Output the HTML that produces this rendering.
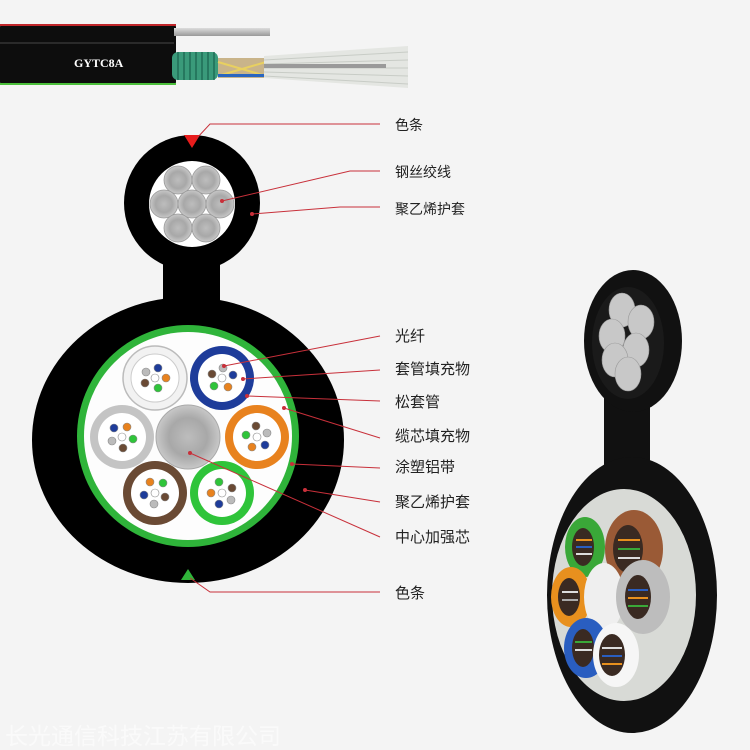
<!DOCTYPE html>
<html><head><meta charset="utf-8"><style>
html,body{margin:0;padding:0;background:#f4f4f4;}
svg{display:block}
text{font-family:"Liberation Sans","Noto Sans CJK SC",sans-serif;}
</style></head><body>
<svg width="750" height="750" viewBox="0 0 750 750" xmlns="http://www.w3.org/2000/svg">
<defs>
<radialGradient id="steel" cx="50%" cy="50%" r="50%">
<stop offset="0" stop-color="#bdbdbd"/><stop offset="0.6" stop-color="#a8a8a8"/><stop offset="1" stop-color="#c8c8c8"/>
</radialGradient>
<linearGradient id="wire" x1="0" x2="0" y1="0" y2="1"><stop offset="0" stop-color="#ddd"/><stop offset="1" stop-color="#999"/></linearGradient>
</defs>
<rect width="750" height="750" fill="#f4f4f4"/>

<!-- top cable side view -->
<rect x="0" y="24" width="176" height="61" rx="3" fill="#0d0d0d"/>
<rect x="0" y="24" width="176" height="2" fill="#c0262a"/>
<rect x="0" y="83" width="176" height="2" fill="#4bbf3a"/>
<line x1="0" y1="43" x2="174" y2="43" stroke="#2a2a2a" stroke-width="2"/>
<rect x="174" y="28" width="96" height="8" fill="url(#wire)"/>
<rect x="172" y="52" width="46" height="28" rx="6" fill="#3a9a7a"/>
<g stroke="#1f6d56" stroke-width="1.5">
<line x1="178" y1="52" x2="178" y2="80"/><line x1="184" y1="52" x2="184" y2="80"/><line x1="190" y1="52" x2="190" y2="80"/><line x1="196" y1="52" x2="196" y2="80"/><line x1="202" y1="52" x2="202" y2="80"/><line x1="208" y1="52" x2="208" y2="80"/><line x1="214" y1="52" x2="214" y2="80"/></g>
<rect x="218" y="58" width="48" height="20" fill="#c9b48a"/>
<path d="M218 62 L266 76 M218 76 L266 62" stroke="#e8d060" stroke-width="2"/>
<rect x="218" y="74" width="48" height="3" fill="#2a66c0"/>
<path d="M264 56 L408 46 L408 88 L264 78 Z" fill="#e4e6e2"/>
<g stroke="#c8ccc6" stroke-width="1"><line x1="264" y1="60" x2="408" y2="52"/><line x1="264" y1="64" x2="408" y2="60"/><line x1="264" y1="68" x2="408" y2="68"/><line x1="264" y1="72" x2="408" y2="76"/><line x1="264" y1="76" x2="408" y2="84"/></g>
<rect x="264" y="64" width="122" height="4" fill="#9a9a9a"/>
<text x="74" y="67" fill="#fff" font-size="12" font-weight="bold" style="font-family:'Liberation Serif',serif">GYTC8A</text>

<!-- cross section -->
<rect x="163" y="255" width="57" height="60" fill="#000"/>
<circle cx="192" cy="203" r="68" fill="#000"/>
<circle cx="192" cy="204" r="43" fill="#fff"/>
<g fill="url(#steel)" stroke="#999" stroke-width="0.8">
<circle cx="178" cy="180" r="14"/><circle cx="206" cy="180" r="14"/>
<circle cx="164" cy="204" r="14"/><circle cx="192" cy="204" r="14"/><circle cx="220" cy="204" r="14"/>
<circle cx="178" cy="228" r="14"/><circle cx="206" cy="228" r="14"/></g>
<polygon points="184,135 200,135 192,148" fill="#e81c1c"/>

<ellipse cx="188" cy="440" rx="156" ry="143" fill="#000"/>
<circle cx="188" cy="436" r="111" fill="#2fb43a"/>
<circle cx="188" cy="436" r="104" fill="#fdfdfd"/>
<polygon points="181,580 195,580 188,569" fill="#2fb43a"/>

<g>
<circle cx="155" cy="378" r="32" fill="#f2f2f2" stroke="#bbb" stroke-width="1.5"/><circle cx="155" cy="378" r="24" fill="#fff" stroke="#ccc"/>
<circle cx="222" cy="378" r="32" fill="#1e3c9a"/><circle cx="222" cy="378" r="24" fill="#fff"/>
<circle cx="122" cy="437" r="32" fill="#c4c4c4"/><circle cx="122" cy="437" r="24" fill="#fff"/>
<circle cx="188" cy="437" r="32" fill="url(#steel)" stroke="#aaa"/>
<circle cx="257" cy="437" r="32" fill="#e8821e"/><circle cx="257" cy="437" r="24" fill="#fff"/>
<circle cx="155" cy="493" r="32" fill="#6a4a34"/><circle cx="155" cy="493" r="24" fill="#fff"/>
<circle cx="222" cy="493" r="32" fill="#2fc43a"/><circle cx="222" cy="493" r="24" fill="#fff"/>
</g>
<g stroke="#888" stroke-width="0.6">
<g transform="translate(155,378)"><circle r="4" fill="#fff"/><circle cx="-9" cy="-6" r="4" fill="#bbb"/><circle cx="3" cy="-10" r="4" fill="#1e3c9a"/><circle cx="11" cy="0" r="4" fill="#e8821e"/><circle cx="3" cy="10" r="4" fill="#2fc43a"/><circle cx="-10" cy="5" r="4" fill="#6a4a34"/></g>
<g transform="translate(222,378)"><circle r="4" fill="#fff"/><circle cx="1" cy="-10" r="4" fill="#bbb"/><circle cx="11" cy="-3" r="4" fill="#1e3c9a"/><circle cx="6" cy="9" r="4" fill="#e8821e"/><circle cx="-8" cy="8" r="4" fill="#2fc43a"/><circle cx="-10" cy="-4" r="4" fill="#6a4a34"/></g>
<g transform="translate(122,437)"><circle r="4" fill="#fff"/><circle cx="-8" cy="-9" r="4" fill="#1e3c9a"/><circle cx="5" cy="-10" r="4" fill="#e8821e"/><circle cx="11" cy="2" r="4" fill="#2fc43a"/><circle cx="1" cy="11" r="4" fill="#6a4a34"/><circle cx="-10" cy="4" r="4" fill="#bbb"/></g>
<g transform="translate(257,437)"><circle r="4" fill="#fff"/><circle cx="-1" cy="-11" r="4" fill="#6a4a34"/><circle cx="10" cy="-4" r="4" fill="#bbb"/><circle cx="8" cy="8" r="4" fill="#1e3c9a"/><circle cx="-5" cy="10" r="4" fill="#e8821e"/><circle cx="-11" cy="-2" r="4" fill="#2fc43a"/></g>
<g transform="translate(155,493)"><circle r="4" fill="#fff"/><circle cx="-5" cy="-11" r="4" fill="#e8821e"/><circle cx="8" cy="-10" r="4" fill="#2fc43a"/><circle cx="10" cy="4" r="4" fill="#6a4a34"/><circle cx="-1" cy="11" r="4" fill="#bbb"/><circle cx="-11" cy="2" r="4" fill="#1e3c9a"/></g>
<g transform="translate(222,493)"><circle r="4" fill="#fff"/><circle cx="-3" cy="-11" r="4" fill="#2fc43a"/><circle cx="10" cy="-5" r="4" fill="#6a4a34"/><circle cx="9" cy="7" r="4" fill="#bbb"/><circle cx="-3" cy="11" r="4" fill="#1e3c9a"/><circle cx="-11" cy="0" r="4" fill="#e8821e"/></g>
</g>

<g stroke="#c8303a" stroke-width="1" fill="none">
<polyline points="380,124 210,124 197,138"/>
<polyline points="380,171 350,171 222,201"/>
<polyline points="380,207 340,207 252,214"/>
<polyline points="380,336 224,366"/>
<polyline points="380,370 243,379"/>
<polyline points="380,401 247,396"/>
<polyline points="380,438 284,408"/>
<polyline points="380,468 292,464"/>
<polyline points="380,502 305,490"/>
<polyline points="380,537 190,453"/>
<polyline points="380,592 210,592 190,578"/>
</g>
<g fill="#c8303a">
<circle cx="222" cy="201" r="2"/><circle cx="252" cy="214" r="2"/><circle cx="224" cy="366" r="2"/><circle cx="243" cy="379" r="2"/><circle cx="247" cy="396" r="2"/><circle cx="284" cy="408" r="2"/><circle cx="292" cy="464" r="2"/><circle cx="305" cy="490" r="2"/><circle cx="190" cy="453" r="2"/>
</g>
<g fill="#222" font-size="14">
<text x="395" y="130">色条</text>
<text x="395" y="177">钢丝绞线</text>
<text x="395" y="214">聚乙烯护套</text>
<text x="395" y="341" font-size="15">光纤</text>
<text x="395" y="374" font-size="15">套管填充物</text>
<text x="395" y="407" font-size="15">松套管</text>
<text x="395" y="441" font-size="15">缆芯填充物</text>
<text x="395" y="472" font-size="15">涂塑铝带</text>
<text x="395" y="507" font-size="15">聚乙烯护套</text>
<text x="395" y="542" font-size="15">中心加强芯</text>
<text x="395" y="598" font-size="15">色条</text>
</g>

<!-- right 3D view -->
<rect x="604" y="390" width="46" height="100" fill="#111"/>
<ellipse cx="633" cy="341" rx="49" ry="71" fill="#111"/>
<ellipse cx="628" cy="343" rx="36" ry="56" fill="#1a1a1a"/>
<g fill="#c8c8c8" stroke="#999" stroke-width="0.6">
<ellipse cx="622" cy="310" rx="13" ry="17"/><ellipse cx="641" cy="322" rx="13" ry="17"/><ellipse cx="612" cy="336" rx="13" ry="17"/><ellipse cx="636" cy="350" rx="13" ry="17"/><ellipse cx="615" cy="360" rx="13" ry="17"/><ellipse cx="628" cy="374" rx="13" ry="17"/></g>
<ellipse cx="632" cy="595" rx="85" ry="138" fill="#111"/>
<ellipse cx="624" cy="595" rx="72" ry="106" fill="#d8dad6"/>
<g>
<ellipse cx="585" cy="547" rx="20" ry="30" fill="#3aa838"/><ellipse cx="583" cy="547" rx="11" ry="19" fill="#3a2a22"/>
<ellipse cx="634" cy="549" rx="29" ry="39" fill="#9a5a36"/><ellipse cx="628" cy="549" rx="15" ry="24" fill="#3a2a22"/>
<ellipse cx="571" cy="597" rx="20" ry="30" fill="#e8901e"/><ellipse cx="569" cy="597" rx="11" ry="19" fill="#3a2a22"/>
<ellipse cx="604" cy="597" rx="20" ry="34" fill="#efefef"/>
<ellipse cx="643" cy="597" rx="27" ry="37" fill="#bdbdbd"/><ellipse cx="638" cy="597" rx="13" ry="22" fill="#3a2a22"/>
<ellipse cx="586" cy="648" rx="22" ry="30" fill="#2a5ec0"/><ellipse cx="583" cy="648" rx="11" ry="19" fill="#3a2a22"/>
<ellipse cx="616" cy="655" rx="23" ry="32" fill="#f6f6f6"/><ellipse cx="612" cy="655" rx="13" ry="21" fill="#3a2a22"/>
</g>
<g stroke-width="2">
<line x1="576" y1="540" x2="592" y2="540" stroke="#e8901e"/><line x1="576" y1="547" x2="592" y2="547" stroke="#2a5ec0"/><line x1="576" y1="554" x2="592" y2="554" stroke="#ddd"/>
<line x1="618" y1="540" x2="640" y2="540" stroke="#e8901e"/><line x1="618" y1="549" x2="640" y2="549" stroke="#3aa838"/><line x1="618" y1="558" x2="640" y2="558" stroke="#ddd"/>
<line x1="628" y1="590" x2="648" y2="590" stroke="#2a5ec0"/><line x1="628" y1="598" x2="648" y2="598" stroke="#e8901e"/><line x1="628" y1="606" x2="648" y2="606" stroke="#3aa838"/>
<line x1="562" y1="592" x2="578" y2="592" stroke="#ddd"/><line x1="562" y1="600" x2="578" y2="600" stroke="#aaa"/>
<line x1="575" y1="642" x2="592" y2="642" stroke="#3aa838"/><line x1="575" y1="650" x2="592" y2="650" stroke="#ddd"/>
<line x1="602" y1="648" x2="622" y2="648" stroke="#ddd"/><line x1="602" y1="656" x2="622" y2="656" stroke="#2a5ec0"/><line x1="602" y1="664" x2="622" y2="664" stroke="#e8901e"/>
</g>

<text x="5" y="744" fill="#ffffff" font-size="23" opacity="0.6">长光通信科技江苏有限公司</text>
</svg>
</body></html>
